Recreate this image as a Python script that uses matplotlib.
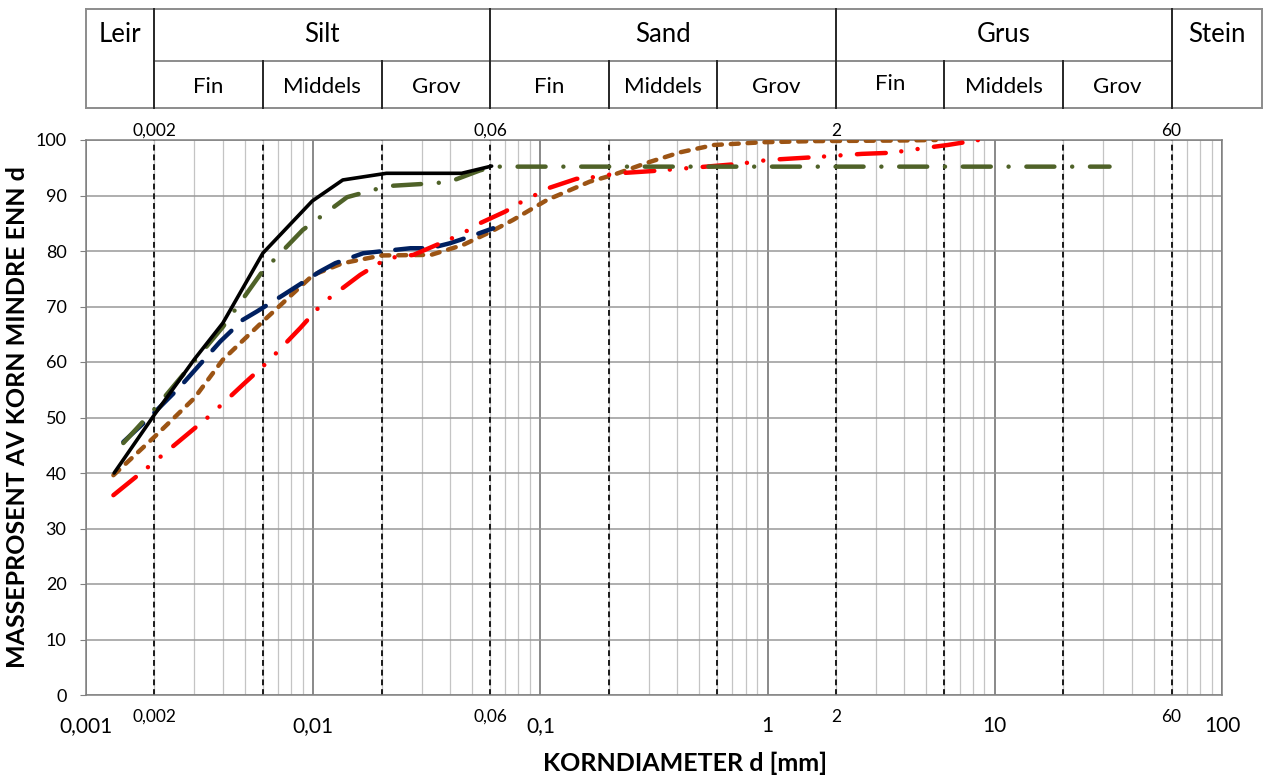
import matplotlib
matplotlib.use("Agg")
import matplotlib.pyplot as plt
from matplotlib import transforms
from matplotlib.lines import Line2D
from matplotlib.ticker import FixedLocator, LogLocator, NullFormatter

plt.rcParams["font.family"] = ["Lato", "DejaVu Sans"]

W, H = 1266, 776

# grain size classes [mm]
CLASS_NAMES = ["Leir", "Silt", "Sand", "Grus", "Stein"]
CLASS_EDGES = [0.001, 0.002, 0.06, 2, 60, 150]
SUB_NAMES = ["Fin", "Middels", "Grov"]
SUB_EDGES = [0.002, 0.006, 0.02, 0.06, 0.2, 0.6, 2, 6, 20, 60]
BOUND_VALUES = [0.002, 0.06, 2, 60]
BOUND_LABELS = ["0,002", "0,06", "2", "60"]
X_TICKS = [0.001, 0.01, 0.1, 1, 10, 100]
X_TICK_LABELS = ["0,001", "0,01", "0,1", "1", "10", "100"]
Y_TICKS = list(range(0, 101, 10))

# grading curves: diameter [mm], percent passing
black_d = [0.00133, 0.002, 0.003, 0.004, 0.006, 0.0099, 0.0135, 0.021, 0.045, 0.061]
black_p = [40.0, 50.5, 60.5, 67.0, 79.6, 89.0, 92.8, 94.0, 94.0, 95.3]

olive_d = [0.00146, 0.002, 0.004, 0.0059, 0.009, 0.0141, 0.0212, 0.034, 0.040, 0.054, 0.062, 32]
olive_p = [45.4, 51.5, 66.3, 76.0, 83.8, 89.7, 91.7, 92.2, 92.5, 94.5, 95.2, 95.2]

navy_d = [0.00146, 0.00185, 0.00259, 0.0039, 0.0049, 0.00565, 0.0074, 0.0107, 0.0125,
          0.0166, 0.0268, 0.0327, 0.040, 0.049, 0.062]
navy_p = [45.6, 49.5, 55.5, 63.7, 67.6, 69.1, 72.1, 76.3, 77.8, 79.6, 80.5, 80.5, 81.4, 82.6, 84.1]

red_d = [0.00132, 0.00188, 0.00267, 0.0035, 0.0049, 0.0063, 0.00876, 0.011, 0.0161, 0.0212,
         0.0276, 0.0393, 0.0457, 0.0522, 0.070, 0.0805, 0.094, 0.108, 0.144, 0.171, 0.22,
         0.31, 0.5, 0.75, 1.0, 1.6, 2.6, 3.5, 5.0, 6.2, 8.5]
red_p = [36.0, 41.1, 46.3, 50.3, 55.9, 60.0, 66.1, 70.6, 75.7, 78.7, 79.3, 82.0, 83.2, 84.7,
         87.1, 88.6, 90.0, 91.3, 93.0, 93.3, 94.0, 94.4, 95.1, 95.7, 96.4, 96.9, 97.5, 97.7,
         98.6, 99.1, 100.0]

brown_d = [0.00132, 0.002, 0.003, 0.004, 0.006, 0.01, 0.0135, 0.02, 0.033, 0.0457, 0.06,
           0.0758, 0.107, 0.165, 0.209, 0.295, 0.414, 0.58, 0.96, 1.6, 3.7, 5.5]
brown_p = [39.6, 46.5, 53.5, 60.4, 67.3, 75.7, 77.8, 79.2, 79.3, 81.1, 83.4, 85.6, 89.2,
           92.5, 93.7, 95.9, 97.8, 99.1, 99.6, 99.8, 99.9, 100.0]


def fy(py):
    return 1 - py / H


fig = plt.figure(figsize=(W / 100, H / 100), dpi=100)
ax = fig.add_axes([86 / W, fy(695), 1136 / W, 555 / H])
ax.set_xscale("log")
ax.set_xlim(0.001, 100)
ax.set_ylim(0, 100)

# grid
ax.xaxis.set_major_locator(FixedLocator(X_TICKS))
ax.set_xticklabels(X_TICK_LABELS, fontsize=15)
ax.xaxis.set_minor_locator(LogLocator(subs=range(2, 10)))
ax.xaxis.set_minor_formatter(NullFormatter())
ax.set_yticks(Y_TICKS)
ax.set_yticklabels([str(v) for v in Y_TICKS], fontsize=13)
ax.grid(which="major", axis="x", color="#808080", lw=1.3)
ax.grid(which="minor", axis="x", color="#c4c4c4", lw=0.9)
ax.grid(which="major", axis="y", color="#999999", lw=1.1)
ax.tick_params(axis="x", which="both", length=0, pad=15)
ax.tick_params(axis="y", length=4, color="#808080", pad=10)
for sp in ax.spines.values():
    sp.set_color("#808080")
    sp.set_linewidth(1.1)

# class boundaries
for b in SUB_EDGES:
    ax.axvline(b, color="#1a1a1a", lw=1.4, dashes=(3, 2), zorder=2)

# curves
ax.plot(brown_d, brown_p, color="#9c5414", lw=3.2, dashes=(1.8, 2.0),
        dash_capstyle="round", zorder=3)
ax.plot(navy_d, navy_p, color="#002060", lw=3.2, dashes=(6.1, 3.5),
        dash_capstyle="round", zorder=4)
ax.plot(red_d, red_p, color="#ff0000", lw=3.2, dashes=(6.5, 3.5, 0.01, 3.7, 0.01, 3.7),
        dash_capstyle="round", zorder=4)
ax.plot(olive_d, olive_p, color="#4f6228", lw=3.2, dashes=(6.3, 4.0, 0.01, 4.0),
        dash_capstyle="round", zorder=5)
ax.plot(black_d, black_p, color="black", lw=2.6, solid_capstyle="round", zorder=6)

# boundary labels above and below the plot
trans = transforms.blended_transform_factory(ax.transData, fig.transFigure)
for v, s in zip(BOUND_VALUES, BOUND_LABELS):
    fig.text(v, fy(131), s, transform=trans, ha="center", va="center", fontsize=12.5)
    fig.text(v, fy(717), s, transform=trans, ha="center", va="center", fontsize=12.5)

# axis titles
fig.text(685 / W, fy(763), "KORNDIAMETER d [mm]", ha="center", va="center",
         fontsize=18, fontweight="bold")
fig.text(18 / W, fy(417), "MASSEPROSENT AV KORN MINDRE ENN d", ha="center",
         va="center", rotation=90, fontsize=18, fontweight="bold")

# header table with soil classes
top, mid, bot = fy(9), fy(61), fy(108)
grey = "#8c8c8c"
x0, x1 = CLASS_EDGES[0], CLASS_EDGES[-1]
for xs, ys in [([x0, x1], [top, top]), ([x0, x1], [bot, bot]),
               ([x0, x0], [top, bot]), ([x1, x1], [top, bot]),
               ([CLASS_EDGES[1], CLASS_EDGES[4]], [mid, mid])]:
    fig.add_artist(Line2D(xs, ys, transform=trans, color=grey, lw=1.4))
for e in CLASS_EDGES[1:5]:
    fig.add_artist(Line2D([e, e], [top, bot], transform=trans, color="#262626", lw=1.4))
for e in SUB_EDGES:
    if e not in CLASS_EDGES:
        fig.add_artist(Line2D([e, e], [mid, bot], transform=trans, color="#262626", lw=1.4))

for i, name in enumerate(CLASS_NAMES):
    a, b = CLASS_EDGES[i], CLASS_EDGES[i + 1]
    xc = (a * b) ** 0.5
    fig.text(xc, fy(35), name, transform=trans, ha="center", va="center", fontsize=18.5)
for i in range(9):
    a, b = SUB_EDGES[i], SUB_EDGES[i + 1]
    xc = (a * b) ** 0.5
    yc = 84 if i == 6 else 87
    fig.text(xc, fy(yc), SUB_NAMES[i % 3], transform=trans, ha="center", va="center",
             fontsize=16)

fig.savefig("out.png", dpi=100)
